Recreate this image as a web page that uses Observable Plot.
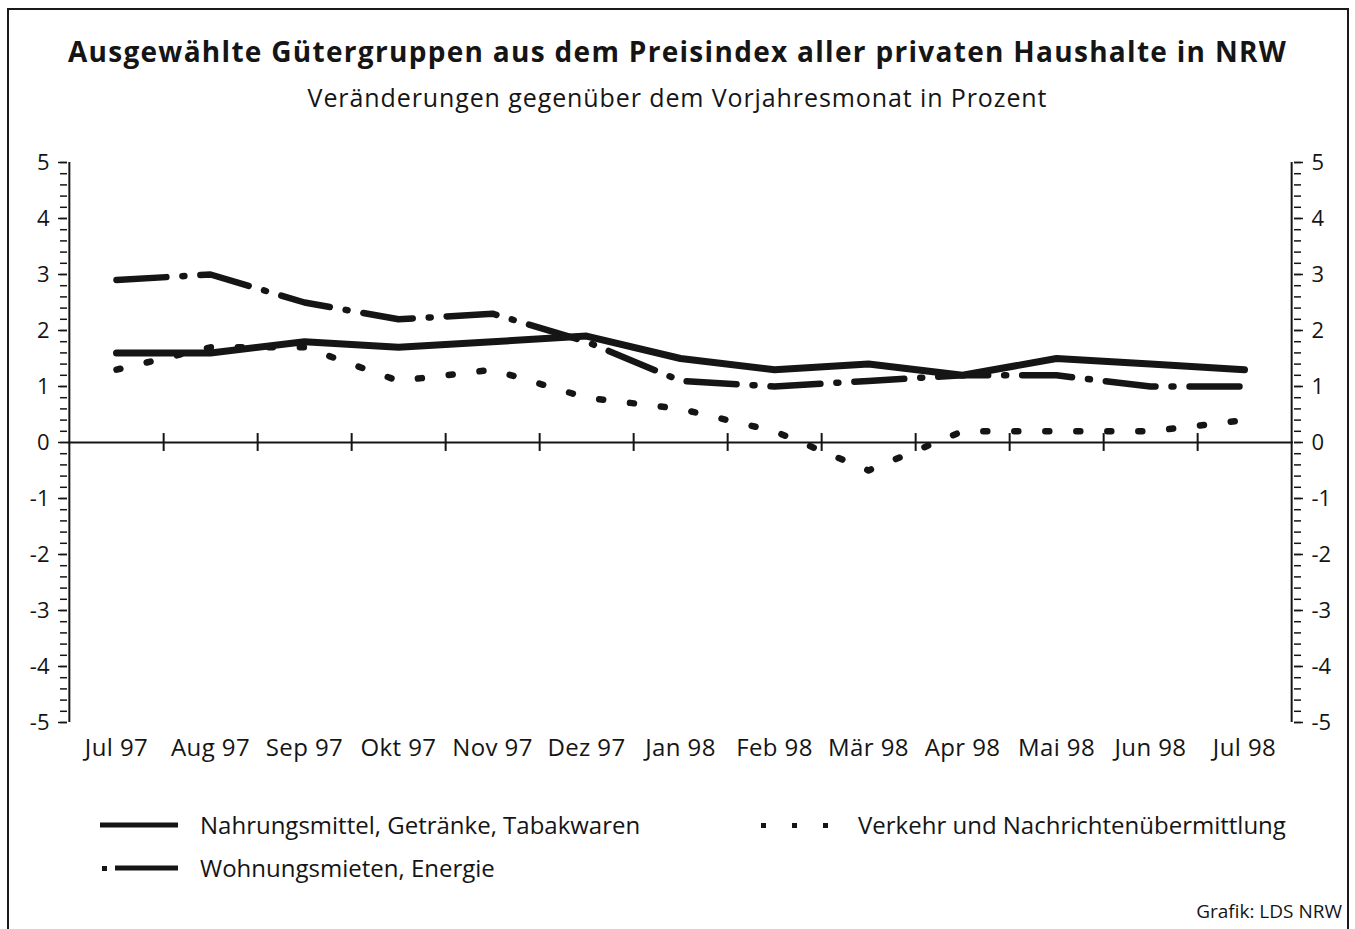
<!DOCTYPE html>
<html><head><meta charset="utf-8">
<script src="https://cdn.jsdelivr.net/npm/d3@7"></script>
<script src="https://cdn.jsdelivr.net/npm/@observablehq/plot@0.6"></script>
<style>
body{margin:0;background:#fff;}
#wrap{position:relative;width:1355px;height:929px;overflow:hidden;font-family:"Open Sans",sans-serif;color:#151515;}
#border{position:absolute;left:7px;top:8px;width:1342px;height:930px;border:2px solid #1a1a1a;box-sizing:border-box;}
#title{position:absolute;left:0;width:1355px;top:33px;text-align:center;font-weight:700;font-size:28px;line-height:36px;letter-spacing:1.3px;}
#subtitle{position:absolute;left:0;width:1355px;top:80px;text-align:center;font-size:25px;line-height:34px;letter-spacing:0.9px;}
#chart{position:absolute;left:0;top:140px;}
#chart svg g[aria-label="x-axis tick label"] text{letter-spacing:0.4px;}
.leg{position:absolute;font-size:24px;line-height:30px;white-space:nowrap;}
.leg svg{position:absolute;}
#credit{position:absolute;right:13px;top:898px;font-size:19px;line-height:26px;}
</style></head>
<body>
<div id="wrap">
  <div id="border"></div>
  <div id="title">Ausgewählte Gütergruppen aus dem Preisindex aller privaten Haushalte in NRW</div>
  <div id="subtitle">Veränderungen gegenüber dem Vorjahresmonat in Prozent</div>
  <div id="chart"></div>
  <div id="legend"></div>
  <div id="credit">Grafik: LDS NRW</div>
</div>
<script>
const months = ["Jul 97","Aug 97","Sep 97","Okt 97","Nov 97","Dez 97","Jan 98","Feb 98","Mär 98","Apr 98","Mai 98","Jun 98","Jul 98"];
const nahrung = [1.6, 1.6, 1.8, 1.7, 1.8, 1.9, 1.5, 1.3, 1.4, 1.2, 1.5, 1.4, 1.3];
const wohnung = [2.9, 3.0, 2.5, 2.2, 2.3, 1.8, 1.1, 1.0, 1.1, 1.2, 1.2, 1.0, 1.0];
const verkehr = [1.3, 1.7, 1.7, 1.1, 1.3, 0.8, 0.6, 0.2, -0.5, 0.2, 0.2, 0.2, 0.4];
const seriesNames = ["Nahrungsmittel, Getränke, Tabakwaren", "Wohnungsmieten, Energie", "Verkehr und Nachrichtenübermittlung"];
const yMajor = [-5,-4,-3,-2,-1,0,1,2,3,4,5];
const yMinor = d3.range(-50, 51, 2).map(d => d / 10);

const W = 1355, mL = 67, mR = 62;
const step = (W - mL - mR) / months.length;
const ink = "#151515";

const dashDot = "50,16,2,16";
const dotted = "4,27";

const chart = Plot.plot({
  width: W, height: 640,
  marginLeft: mL, marginRight: mR, marginTop: 22, marginBottom: 58,
  style: {fontFamily: '"Open Sans", sans-serif', fontSize: "22px", color: ink, background: "transparent", overflow: "visible"},
  x: {type: "point", domain: months, padding: 0.5, label: null},
  y: {domain: [-5, 5], label: null},
  marks: [
    Plot.axisX({ticks: months, tickSize: 0, tickPadding: 16, fontSize: 24, label: null}),
    Plot.axisY({anchor: "left", ticks: yMinor, tickSize: 7, tickFormat: () => "", label: null, strokeWidth: 1.5}),
    Plot.axisY({anchor: "left", ticks: yMajor, tickSize: 9, tickPadding: 9, tickFormat: d => String(d), label: null, strokeWidth: 1.5}),
    Plot.axisY({anchor: "right", ticks: yMinor, tickSize: 7, tickFormat: () => "", label: null, strokeWidth: 1.5}),
    Plot.axisY({anchor: "right", ticks: yMajor, tickSize: 9, tickPadding: 9, tickFormat: d => String(d), label: null, strokeWidth: 1.5}),
    Plot.ruleX([months[0]], {dx: -step / 2, y1: -5, y2: 5, stroke: ink, strokeWidth: 2}),
    Plot.ruleX([months[months.length - 1]], {dx: step / 2, y1: -5, y2: 5, stroke: ink, strokeWidth: 2}),
    Plot.ruleY([0], {stroke: ink, strokeWidth: 2}),
    Plot.ruleX(months.slice(0, -1), {dx: step / 2, y1: -0.16, y2: 0.16, stroke: ink, strokeWidth: 2}),
    Plot.line(months, {x: months, y: verkehr, stroke: ink, strokeWidth: 6.5, strokeDasharray: dotted, strokeLinecap: "round", strokeLinejoin: "round"}),
    Plot.line(months, {x: months, y: wohnung, stroke: ink, strokeWidth: 6.5, strokeDasharray: dashDot, strokeLinecap: "round", strokeLinejoin: "round"}),
    Plot.line(months, {x: months, y: nahrung, stroke: ink, strokeWidth: 7, strokeLinecap: "round", strokeLinejoin: "round"})
  ]
});
document.getElementById("chart").appendChild(chart);

// legend
const legendItems = [
  {name: seriesNames[0], left: 100, top: 810, textLeft: 100, sample: `<line x1="0" y1="5" x2="78" y2="5" stroke="${ink}" stroke-width="5"/>`},
  {name: seriesNames[1], left: 100, top: 853, textLeft: 100, sample: `<rect x="2" y="3" width="5" height="5" fill="${ink}"/><line x1="15" y1="5" x2="78" y2="5" stroke="${ink}" stroke-width="5"/>`},
  {name: seriesNames[2], left: 760, top: 810, textLeft: 98, sample: `<rect x="1" y="3" width="5" height="5" fill="${ink}"/><rect x="32" y="3" width="5" height="5" fill="${ink}"/><rect x="63" y="3" width="5" height="5" fill="${ink}"/>`}
];
const legend = document.getElementById("legend");
for (const it of legendItems) {
  const d = document.createElement("div");
  d.className = "leg";
  d.style.left = it.left + "px";
  d.style.top = it.top + "px";
  d.innerHTML = `<svg width="80" height="10" style="left:0;top:10px">${it.sample}</svg><span style="position:absolute;left:${it.textLeft}px;top:0">${it.name}</span>`;
  legend.appendChild(d);
}
</script>
</body></html>
